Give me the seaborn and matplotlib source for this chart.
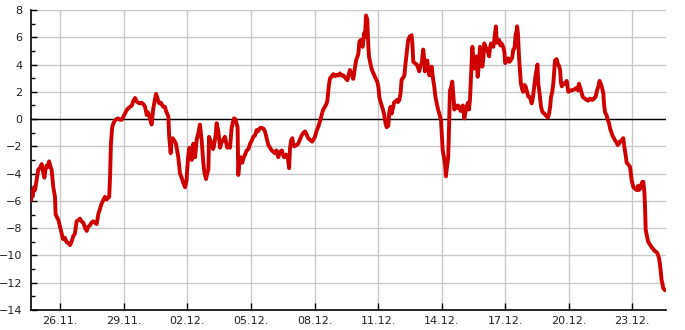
import numpy as np
import pandas as pd
import matplotlib
matplotlib.use("Agg")
import matplotlib.pyplot as plt
import matplotlib.dates as mdates
from matplotlib.ticker import MultipleLocator
import seaborn as sns

# days since 24.11. 00:00
days = [0.57, 0.60, 0.62, 0.69, 0.76, 0.81, 0.88, 0.96, 1.04, 1.12, 1.18, 1.25, 1.30, 1.36, 1.42, 1.47, 1.54, 1.59,
        1.67, 1.75, 1.78, 1.91, 1.99, 2.07, 2.13, 2.22, 2.29, 2.38, 2.46, 2.53, 2.61, 2.69, 2.77, 2.86, 2.93,
        3.00, 3.09, 3.17, 3.25, 3.31, 3.40, 3.47, 3.56, 3.64, 3.72, 3.79, 3.87, 3.95, 4.04, 4.11, 4.18, 4.24,
        4.31, 4.35, 4.39, 4.45, 4.51, 4.58, 4.65, 4.73, 4.82, 4.90, 4.96, 5.05, 5.15, 5.29, 5.38, 5.44, 5.53,
        5.60, 5.68, 5.76, 5.83, 5.92, 6.00, 6.08, 6.14, 6.23, 6.31, 6.39, 6.45, 6.52, 6.59, 6.67, 6.75, 6.86,
        6.94, 6.99, 7.10, 7.14, 7.21, 7.25, 7.30, 7.39, 7.46, 7.57, 7.65, 7.73, 7.81, 7.89, 7.96, 7.99, 8.04,
        8.09, 8.15, 8.20, 8.28, 8.36, 8.44, 8.52, 8.59, 8.67, 8.75, 8.81, 8.88, 8.93, 8.99, 9.02, 9.09, 9.15,
        9.21, 9.25, 9.33, 9.38, 9.46, 9.54, 9.61, 9.66, 9.73, 9.77, 9.84, 9.88, 9.96, 10.01, 10.09, 10.15,
        10.20, 10.26, 10.33, 10.37, 10.40, 10.46, 10.53, 10.59, 10.64, 10.72, 10.80, 10.88, 10.96, 11.03,
        11.11, 11.19, 11.27, 11.33, 11.43, 11.51, 11.59, 11.66, 11.74, 11.82, 11.90, 11.98, 12.06, 12.13,
        12.20, 12.29, 12.37, 12.46, 12.51, 12.57, 12.65, 12.73, 12.80, 12.84, 12.89, 12.95, 13.00, 13.05,
        13.15, 13.23, 13.31, 13.39, 13.48, 13.55, 13.62, 13.70, 13.81, 13.89, 13.95, 14.02, 14.09, 14.18,
        14.23, 14.30, 14.35, 14.41, 14.49, 14.57, 14.61, 14.65, 14.69, 14.73, 14.80, 14.89, 14.97, 15.05,
        15.12, 15.20, 15.28, 15.36, 15.44, 15.55, 15.60, 15.67, 15.74, 15.83, 15.89, 15.96, 16.03, 16.07,
        16.12, 16.18, 16.24, 16.27, 16.34, 16.38, 16.43, 16.49, 16.54, 16.57, 16.62, 16.69, 16.74, 16.85,
        16.96, 17.02, 17.06, 17.11, 17.17, 17.23, 17.29, 17.35, 17.41, 17.44, 17.48, 17.53, 17.59, 17.64,
        17.70, 17.75, 17.82, 17.88, 17.94, 18.00, 18.06, 18.11, 18.17, 18.24, 18.29, 18.35, 18.42, 18.49,
        18.58, 18.62, 18.66, 18.74, 18.82, 18.88, 18.94, 19.00, 19.06, 19.13, 19.17, 19.21, 19.27, 19.32,
        19.37, 19.42, 19.47, 19.53, 19.59, 19.65, 19.71, 19.77, 19.83, 19.89, 19.94, 19.97, 20.02, 20.05,
        20.11, 20.16, 20.20, 20.25, 20.31, 20.35, 20.39, 20.44, 20.50, 20.55, 20.60, 20.65, 20.71, 20.77,
        20.82, 20.89, 20.94, 21.00, 21.07, 21.12, 21.18, 21.24, 21.29, 21.34, 21.37, 21.41, 21.45, 21.49,
        21.54, 21.60, 21.65, 21.70, 21.76, 21.81, 21.86, 21.92, 21.97, 22.01, 22.07, 22.13, 22.19, 22.24,
        22.28, 22.33, 22.39, 22.44, 22.48, 22.52, 22.56, 22.60, 22.65, 22.71, 22.77, 22.83, 22.90, 22.96,
        23.00, 23.04, 23.09, 23.15, 23.20, 23.27, 23.33, 23.38, 23.44, 23.49, 23.53, 23.56, 23.60, 23.65,
        23.70, 23.74, 23.80, 23.85, 23.91, 23.96, 24.03, 24.09, 24.17, 24.25, 24.31, 24.37, 24.43, 24.49,
        24.52, 24.56, 24.62, 24.69, 24.76, 24.85, 24.90, 24.96, 25.02, 25.07, 25.12, 25.16, 25.22, 25.27,
        25.31, 25.35, 25.43, 25.49, 25.54, 25.59, 25.63, 25.67, 25.73, 25.82, 25.90, 25.98, 26.06, 26.13,
        26.21, 26.29, 26.37, 26.44, 26.48, 26.54, 26.61, 26.67, 26.77, 26.85, 26.92, 27.00, 27.11, 27.19,
        27.27, 27.33, 27.40, 27.45, 27.51, 27.57, 27.63, 27.67, 27.71, 27.78, 27.84, 27.90, 27.95, 28.00,
        28.06, 28.11, 28.18, 28.25, 28.31, 28.37, 28.42, 28.49, 28.57, 28.61, 28.65, 28.70, 28.73, 28.79,
        28.89, 28.94, 28.97, 29.05, 29.13, 29.20, 29.27, 29.31, 29.36, 29.42, 29.47, 29.52, 29.57, 29.60,
        29.63, 29.69, 29.75, 29.83, 29.91, 29.97, 30.07, 30.14, 30.19, 30.26, 30.30, 30.35, 30.38, 30.42,
        30.46, 30.54]

temps = [-5.5, -6.0, -5.3, -5.7, -5.0, -5.2, -4.5, -3.7, -3.6, -3.3, -3.8, -4.3, -3.7, -3.4, -3.5, -3.1, -3.5,
         -3.7, -5.0, -5.7, -7.0, -7.4, -7.9, -8.4, -8.8, -8.7, -9.0, -9.1, -9.25, -9.0, -8.6, -8.4, -7.5, -7.4,
         -7.3, -7.5, -7.6, -8.0, -8.2, -7.9, -7.8, -7.6, -7.5, -7.6, -7.7, -7.0, -6.6, -6.2, -5.9, -5.7, -5.9,
         -5.8, -5.7, -4.2, -1.8, -0.6, -0.3, -0.1, 0.0, 0.05, -0.05, -0.05, 0.1, 0.4, 0.7, 0.9, 1.0, 1.3, 1.55,
         1.3, 1.2, 1.15, 1.2, 1.1, 0.9, 0.3, 0.5, 0.05, -0.4, 0.8, 1.3, 1.85, 1.5, 1.15, 1.2, 0.9,
         0.9, 0.6, 0.2, -1.3, -2.5, -1.5, -1.4, -1.6, -1.8, -2.8, -4.0, -4.3, -4.7, -5.0, -4.5, -3.7, -2.7,
         -2.1, -2.6, -3.0, -1.8, -2.8, -1.5, -1.0, -0.4, -1.5, -3.2, -4.0, -4.4, -4.0, -3.7, -1.3, -1.6, -1.9,
         -2.2, -2.0, -1.2, -0.3, -0.9, -2.1, -1.7, -1.6, -1.4, -1.3, -1.8, -2.1, -2.0, -2.1, -0.6, -0.2,
         0.05, 0.0, -0.4, -0.6, -4.1, -3.0, -2.8, -3.2, -2.9, -2.6, -2.3, -2.2, -1.8, -1.6,
         -1.3, -1.2, -0.8, -0.9, -0.65, -0.65, -0.7, -0.9, -1.4, -1.9, -2.1, -2.3, -2.4, -2.5,
         -2.3, -2.8, -2.4, -2.3, -2.6, -2.8, -2.6, -2.7, -3.6, -2.2, -1.6, -1.4, -1.9, -2.0,
         -1.9, -1.8, -1.5, -1.2, -1.0, -0.9, -1.1, -1.4, -1.55, -1.65, -1.5, -1.3, -0.9, -0.55,
         -0.3, 0.05, 0.4, 0.7, 0.9, 1.15, 1.4, 2.1, 2.6, 3.0, 3.1, 3.3, 3.15, 3.25,
         3.2, 3.35, 3.2, 3.2, 3.05, 2.85, 3.2, 3.6, 3.3, 2.95, 3.6, 4.3, 4.6, 4.8,
         5.7, 5.8, 5.4, 5.3, 6.3, 6.0, 7.6, 7.3, 5.3, 4.6, 4.2, 3.7, 3.5, 3.1,
         2.75, 2.3, 1.6, 1.3, 1.0, 0.7, 0.3, -0.3, -0.6, -0.2, -0.5, 0.55, 0.9, 0.4,
         0.8, 1.2, 1.3, 1.4, 1.25, 1.4, 1.9, 2.9, 3.0, 3.2, 4.0, 4.8, 5.8, 6.05,
         6.15, 5.5, 4.2, 4.1, 4.0, 3.8, 3.5, 3.9, 4.1, 5.1, 4.5, 3.5, 4.0, 4.3,
         3.7, 3.2, 3.5, 3.85, 3.0, 2.4, 1.6, 1.15, 0.7, 0.4, 0.1, -0.1, -1.5, -2.3,
         -2.8, -3.3, -4.2, -3.5, -2.8, -0.55, 2.1, 2.3, 2.75, 1.8, 0.7, 1.0, 0.8, 1.0,
         0.9, 0.6, 0.7, 1.0, 0.05, 0.5, 0.9, 1.2, 0.7, 1.5, 2.6, 4.0, 5.3, 4.5,
         3.7, 4.3, 4.6, 3.1, 4.0, 5.3, 4.8, 3.85, 4.5, 5.55, 5.3, 5.1, 4.9, 4.6,
         5.2, 5.55, 5.4, 5.3, 5.7, 6.3, 6.8, 5.6, 5.7, 5.8, 5.4, 5.55, 5.3, 4.95,
         4.1, 4.2, 4.4, 4.45, 4.2, 4.35, 4.5, 5.1, 5.2, 6.2, 6.4, 6.8, 6.3, 4.6,
         3.5, 2.6, 2.2, 2.0, 2.5, 2.4, 2.0, 1.65, 1.6, 1.15, 1.6, 2.4, 3.2, 3.7,
         4.0, 2.6, 1.9, 0.9, 0.5, 0.4, 0.3, 0.2, 0.1, 0.4, 0.9, 1.6, 2.0, 2.6,
         3.5, 4.3, 4.4, 4.0, 3.9, 3.6, 2.7, 2.4, 2.6, 2.6, 2.8, 2.0, 2.1, 2.1,
         2.15, 2.2, 2.3, 2.1, 2.6, 2.3, 1.9, 1.6, 1.5, 1.4, 1.35, 1.5, 1.4, 1.5,
         1.65, 2.1, 2.4, 2.8, 2.6, 2.3, 1.9, 1.0, 0.5, 0.3, -0.05, -0.3, -0.7, -0.9,
         -1.2, -1.35, -1.55, -1.7, -1.9, -1.8, -1.65, -1.55, -1.4, -1.9, -2.3, -2.8, -3.2, -3.3,
         -3.5, -4.1, -4.5, -5.0, -5.1, -5.2, -4.9, -5.2, -5.1, -4.8, -4.6, -4.6, -5.4, -6.5,
         -8.1, -8.6, -9.0, -9.2, -9.4, -9.5, -9.7, -9.75, -9.85, -10.2, -10.6, -11.3, -11.8, -12.1,
         -12.4, -12.55]

tick_dates = ["2023-11-26", "2023-11-29", "2023-12-02", "2023-12-05", "2023-12-08",
              "2023-12-11", "2023-12-14", "2023-12-17", "2023-12-20", "2023-12-23"]

n = min(len(days), len(temps))
start = pd.Timestamp("2023-11-24")
df = pd.DataFrame({"time": start + pd.to_timedelta(days[:n], unit="D"), "temp": temps[:n]})

sns.set_style("white")
plt.rcParams["font.family"] = ["DejaVu Sans"]

fig = plt.figure(figsize=(6.85, 3.3), dpi=100)
ax = fig.add_axes([0.0448, 0.0606, 0.9275, 0.9091])

ax.axhline(0, color="black", lw=1.0, zorder=2)
sns.lineplot(data=df, x="time", y="temp", color="#d00000", linewidth=2.8, ax=ax, zorder=3)

ax.set_ylim(-14, 8)
ax.set_xlim(start + pd.Timedelta(days=0.603), start + pd.Timedelta(days=30.59))
ax.yaxis.set_major_locator(MultipleLocator(2))
ax.yaxis.set_minor_locator(MultipleLocator(1))
ax.set_xticks(pd.to_datetime(tick_dates))
ax.xaxis.set_major_formatter(mdates.DateFormatter("%d.%m."))

ax.grid(True, which="major", color="#c8c8c8", lw=1.0, zorder=0)
ax.set_axisbelow(True)
ax.set_xlabel("")
ax.set_ylabel("")

for s in ["top", "right"]:
    ax.spines[s].set_visible(False)
for s in ["left", "bottom"]:
    ax.spines[s].set_color("black")
    ax.spines[s].set_linewidth(1.2)

ax.tick_params(axis="both", which="major", direction="in", length=4, width=1, colors="black",
               labelsize=8, labelcolor="#222222")
ax.tick_params(axis="y", which="minor", direction="in", length=3, width=1, colors="black", left=True)
ax.tick_params(axis="y", which="major", left=True, pad=6)
ax.tick_params(axis="x", which="major", bottom=True, pad=4, length=5)

fig.savefig("out.png", dpi=100)
